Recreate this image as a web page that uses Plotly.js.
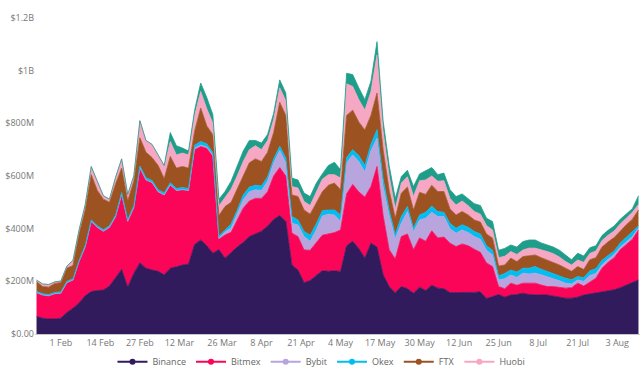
<!DOCTYPE html>
<html><head><meta charset="utf-8">
<script src="https://cdn.plot.ly/plotly-3.0.1.min.js"></script>
<style>html,body{margin:0;padding:0;background:#fff;}#chart{width:643px;height:371px;}</style>
</head><body><div id="chart"></div>
<script>
// values in $M, one point every 2 days starting 24 Jan 2021
const startDate = '2021-01-24';
const stepDays = 2;
const binance = [66,60,57,57,60,82,98,118,145,161,
 165,167,182,215,245,178,230,270,250,243,
 238,225,250,255,262,265,340,357,335,307,
 320,288,310,330,348,370,380,390,410,435,
 450,428,262,243,195,203,222,240,238,240,
 237,335,352,325,288,345,330,225,180,157,
 180,172,155,178,165,185,174,172,157,157,
 157,156,158,160,135,142,150,140,148,150,
 155,150,148,148,148,144,140,136,136,140,
 148,152,155,160,163,168,176,186,195,205];
const bitmex = [91,88,88,96,95,113,107,157,185,266,
 240,223,223,230,285,250,250,360,335,332,
 302,303,316,290,286,280,360,355,370,367,
 40,88,76,100,130,135,135,125,130,165,
 182,172,121,127,124,115,123,135,142,145,
 158,197,216,215,232,215,306,225,140,128,
 190,208,165,187,187,207,191,196,188,175,
 185,179,164,150,135,114,30,32,45,35,
 38,43,45,38,32,36,38,38,40,53,
 34,46,57,90,109,122,144,154,165,190];
const bybit = [0,0,0,0,0,0,0,0,0,0,
 0,0,0,0,0,0,0,0,0,0,
 0,0,0,0,0,0,5,5,5,5,
 3,12,17,25,32,35,33,30,40,50,
 65,50,38,44,51,34,50,73,75,67,
 32,118,112,115,95,135,108,110,130,77,
 51,85,69,68,88,70,81,78,55,51,
 53,50,48,50,48,44,25,38,31,30,
 38,35,38,39,38,30,24,19,14,12,
 18,24,18,12,12,12,10,10,10,7];
const okex = [5,5,5,5,5,5,5,5,6,6,
 6,6,6,6,7,6,7,8,8,8,
 8,8,8,8,8,8,12,14,12,10,
 9,7,15,15,18,18,17,17,17,15,
 16,18,25,19,19,23,23,20,16,19,
 25,20,20,23,25,25,32,30,20,16,
 25,19,13,19,22,24,19,16,20,19,
 20,20,19,20,17,18,15,20,19,20,
 19,22,25,21,19,18,18,19,16,13,
 14,18,18,18,14,13,16,18,20,8];
const ftx = [37,27,28,34,35,50,50,100,134,172,
 134,116,89,119,93,71,93,107,97,87,
 92,54,100,77,80,77,53,127,68,68,
 78,89,82,80,77,92,100,93,93,100,
 167,162,82,89,82,80,79,72,94,102,
 96,160,150,127,135,110,139,110,75,62,
 89,74,69,86,68,79,76,79,55,50,
 50,47,44,45,45,46,38,32,45,40,
 44,47,44,44,44,44,42,38,32,38,
 31,42,42,50,52,51,46,47,46,61];
const huobi = [6,10,10,6,6,8,20,15,20,31,
 35,13,12,25,35,25,20,65,45,50,
 40,45,57,50,51,50,60,63,65,44,
 36,36,50,50,50,50,50,45,45,50,
 55,55,32,32,32,33,40,48,40,32,
 44,120,90,85,75,90,145,70,55,35,
 38,39,51,44,55,35,39,41,40,38,
 40,35,32,30,32,31,32,33,25,27,
 25,29,26,28,32,33,30,25,24,25,
 27,24,25,25,25,25,26,25,26,21];
const other = [0,0,0,0,0,0,0,0,0,0,
 0,0,0,0,0,0,0,0,0,0,
 0,5,34,35,19,15,20,32,43,32,
 26,21,30,40,40,35,20,25,23,23,
 30,30,32,31,32,34,35,20,35,47,
 32,40,45,45,40,40,50,40,40,40,
 25,25,38,26,35,32,25,29,33,32,
 27,28,30,33,28,32,28,30,25,28,
 32,31,31,28,25,25,26,25,20,26,
 24,22,20,19,19,19,18,16,14,33];

const seriesNames = ['Binance','Bitmex','Bybit','Okex','FTX','Huobi','Other'];
const seriesValues = [binance,bitmex,bybit,okex,ftx,huobi,other];
const seriesColors = ['#311B5C','#FA0557','#B9A5DE','#03BDF0','#9C5321','#F5A7C3','#1E9E8A'];
const inLegend = [true,true,true,true,true,true,false];

const tickDates = ['2021-02-01','2021-02-14','2021-02-27','2021-03-12','2021-03-26','2021-04-08','2021-04-21','2021-05-04','2021-05-17','2021-05-30','2021-06-12','2021-06-25','2021-07-08','2021-07-21','2021-08-03'];
const tickLabels = ['1 Feb','14 Feb','27 Feb','12 Mar','26 Mar','8 Apr','21 Apr','4 May','17 May','30 May','12 Jun','25 Jun','8 Jul','21 Jul','3 Aug'];
const yTickVals = [0,200,400,600,800,1000,1200];
const yTickLabels = ['$0.00','$200M','$400M','$600M','$800M','$1B','$1.2B'];

const dates = [];
const t0 = Date.parse(startDate + 'T00:00:00Z');
for (let i = 0; i < binance.length; i++) {
  dates.push(new Date(t0 + i * stepDays * 86400000).toISOString().slice(0,10));
}

const traces = [];
seriesNames.forEach((n,i) => {
  traces.push({
    x: dates, y: seriesValues[i], name: n, type: 'scatter', mode: 'lines',
    stackgroup: 'one', line: {color: seriesColors[i], width: 0.8, shape: 'linear'},
    fillcolor: seriesColors[i], showlegend: false, hoverinfo: 'x+y+name'
  });
});
seriesNames.forEach((n,i) => {
  if (!inLegend[i]) return;
  traces.push({
    x: [null], y: [null], name: n, type: 'scatter', mode: 'lines+markers',
    line: {color: seriesColors[i], width: 2}, marker: {color: seriesColors[i], size: 6},
    showlegend: true, hoverinfo: 'skip'
  });
});

const layout = {
  width: 643, height: 371,
  margin: {l: 35, r: 3, t: 18, b: 37},
  paper_bgcolor: '#fff', plot_bgcolor: '#fff',
  font: {family: '"Open Sans", "DejaVu Sans", sans-serif', size: 9, color: '#777'},
  xaxis: {
    type: 'date', range: ['2021-01-23T12:00:00', '2021-08-10T12:00:00'],
    tickvals: tickDates, ticktext: tickLabels, showgrid: false, zeroline: false,
    showline: true, linecolor: '#c8c8c8', linewidth: 1, ticks: '',
    tickfont: {size: 9, color: '#777'}, automargin: false
  },
  yaxis: {
    range: [0, 1200], tickvals: yTickVals, ticktext: yTickLabels,
    showgrid: false, zeroline: false, showline: false, ticks: '',
    tickfont: {size: 9, color: '#777'}, automargin: false
  },
  showlegend: true,
  legend: {
    orientation: 'h', x: 0.5, xanchor: 'center', xref: 'container',
    y: 0.025, yanchor: 'middle', yref: 'container', traceorder: 'normal',
    font: {size: 9, color: '#666'}, itemwidth: 30, bgcolor: 'rgba(0,0,0,0)'
  }
};
Plotly.newPlot('chart', traces, layout, {displayModeBar: false, staticPlot: true});
</script></body></html>
